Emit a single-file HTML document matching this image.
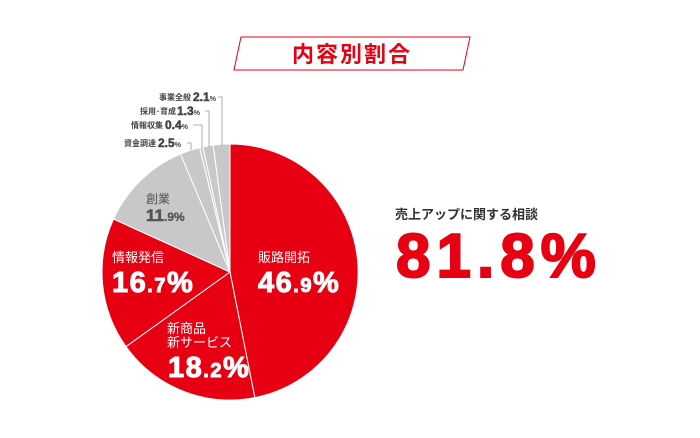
<!DOCTYPE html>
<html><head><meta charset="utf-8"><style>
body{margin:0;background:#fff;}
svg{display:block;}
</style></head><body>
<svg width="700" height="438" viewBox="0 0 700 438" xmlns="http://www.w3.org/2000/svg" font-family="Liberation Sans, Noto Sans CJK JP, sans-serif">
<polygon points="241,37 470,37 463,70 234,70" fill="#fff" stroke="#e60012" stroke-width="1"/>
<text x="352" y="62" text-anchor="middle" font-size="22" font-weight="bold" fill="#e60012" letter-spacing="2">内容別割合</text>
<g stroke="#fff" stroke-width="1">
<path d="M230,272 L230,144 A128,128 0 0 1 254.8,397.6 Z" fill="#e60012"/>
<path d="M230,272 L254.8,397.6 A128,128 0 0 1 126.0,346.6 Z" fill="#e60012"/>
<path d="M230,272 L126.0,346.6 A128,128 0 0 1 113.5,219.0 Z" fill="#e60012"/>
<path d="M230,272 L113.5,219.0 A128,128 0 0 1 180.6,153.9 Z" fill="#c8c8c9"/>
<path d="M230,272 L180.6,153.9 A128,128 0 0 1 199.7,147.6 Z" fill="#c8c8c9"/>
<path d="M230,272 L199.7,147.6 A128,128 0 0 1 202.9,146.9 Z" fill="#c8c8c9"/>
<path d="M230,272 L202.9,146.9 A128,128 0 0 1 213.2,145.1 Z" fill="#c8c8c9"/>
<path d="M230,272 L213.2,145.1 A128,128 0 0 1 230,144 Z" fill="#c8c8c9"/>
</g>
<g stroke="#999" stroke-width="0.8" fill="none">
<polyline points="222,146 222,97 218,97"/>
<polyline points="209,147 209,111 205,111"/>
<polyline points="202,148 202,125 193,125"/>
<polyline points="191,150 191,143 187,143"/>
</g>
<g fill="#444" font-weight="bold">
<text x="159" y="100" font-size="8">事業全般</text><text x="193" y="101" font-size="12" stroke="#444" stroke-width="0.5">2.1<tspan font-size="7" stroke-width="0">%</tspan></text>
<text x="140" y="114" font-size="8">採用･育成</text><text x="177" y="115" font-size="12" stroke="#444" stroke-width="0.5">1.3<tspan font-size="7" stroke-width="0">%</tspan></text>
<text x="131" y="128" font-size="8">情報収集</text><text x="165" y="129" font-size="12" stroke="#444" stroke-width="0.5">0.4<tspan font-size="7" stroke-width="0">%</tspan></text>
<text x="124" y="146" font-size="8">資金調達</text><text x="158" y="147" font-size="12" stroke="#444" stroke-width="0.5">2.5<tspan font-size="7" stroke-width="0">%</tspan></text>
</g>
<text x="146" y="203" font-size="12" fill="#555">創業</text>
<text x="146" y="221" font-size="17" font-weight="bold" fill="#555" stroke="#555" stroke-width="0.6">11<tspan font-size="12" stroke-width="0.3">.9%</tspan></text>
<g fill="#fff">
<text x="258" y="262" font-size="13">販路開拓</text>
<text x="258" y="292" font-size="29" font-weight="bold" stroke="#fff" stroke-width="1" letter-spacing="1.5">46<tspan font-size="20">.9</tspan>%</text>
<text x="112" y="262" font-size="13">情報発信</text>
<text x="112" y="292" font-size="29" font-weight="bold" stroke="#fff" stroke-width="1" letter-spacing="1.5">16<tspan font-size="20">.7</tspan>%</text>
<text x="167" y="333" font-size="13">新商品</text>
<text x="167" y="347" font-size="13">新サービス</text>
<text x="168" y="377" font-size="29" font-weight="bold" stroke="#fff" stroke-width="1" letter-spacing="1.5">18<tspan font-size="20">.2</tspan>%</text>
</g>
<text x="395" y="219" font-size="13" font-weight="bold" fill="#333">売上アップに関する相談</text>
<text x="396" y="277" font-size="62" font-weight="bold" fill="#e60012" stroke="#e60012" stroke-width="2" letter-spacing="6">81.8%</text>
</svg>
</body></html>
